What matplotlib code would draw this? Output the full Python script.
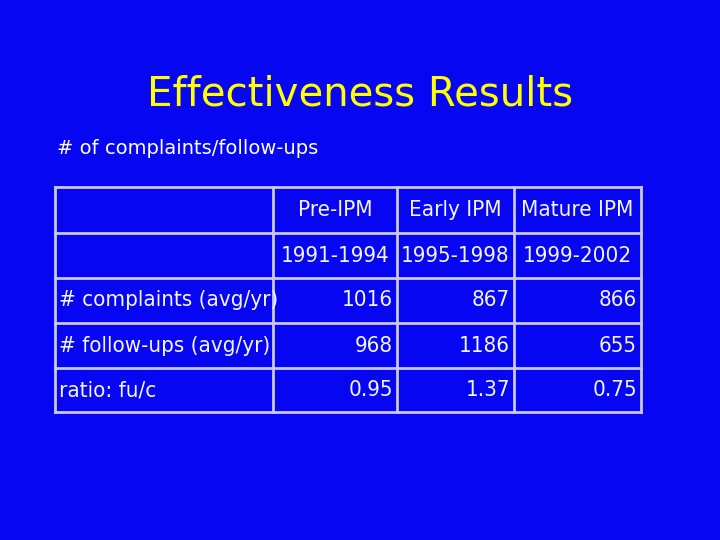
import matplotlib
matplotlib.use("Agg")
import matplotlib.pyplot as plt

headers = ["Pre-IPM", "Early IPM", "Mature IPM"]
periods = ["1991-1994", "1995-1998", "1999-2002"]
row_labels = ["# complaints (avg/yr)", "# follow-ups (avg/yr)", "ratio: fu/c"]
complaints = ["1016", "867", "866"]
followups = ["968", "1186", "655"]
ratios = ["0.95", "1.37", "0.75"]

bg = "#0606f2"
fig = plt.figure(figsize=(7.2, 5.4), dpi=100, facecolor=bg)
ax = fig.add_axes([0, 0, 1, 1])
ax.set_xlim(0, 720); ax.set_ylim(540, 0); ax.axis("off")
ax.set_facecolor(bg)

ax.text(360, 95, "Effectiveness Results", color="#ffff00", fontsize=29,
        ha="center", va="center", family="DejaVu Sans")
ax.text(57, 148, "# of complaints/follow-ups", color="white", fontsize=14,
        ha="left", va="center", family="DejaVu Sans")

xs = [55, 273, 397, 514, 641]
ys = [187, 233, 278, 323, 368, 412]
lc = "#c8c8ff"
for x in xs:
    ax.plot([x, x], [ys[0], ys[-1]], color=lc, lw=2)
for y in ys:
    ax.plot([xs[0], xs[-1]], [y, y], color=lc, lw=2)

tc = "#f4f4ff"
fs = 16
kw = dict(color=tc, fontsize=fs, va="center", family="DejaVu Sans", fontstretch="condensed")
rows = [complaints, followups, ratios]
for j in range(3):
    cx = (xs[j+1] + xs[j+2]) / 2
    ax.text(cx, (ys[0]+ys[1])/2, headers[j], ha="center", **kw)
    ax.text(cx, (ys[1]+ys[2])/2, periods[j], ha="center", **kw)
for i, (lab, vals) in enumerate(zip(row_labels, rows)):
    cy = (ys[i+2] + ys[i+3]) / 2
    ax.text(xs[0] + 4, cy, lab, ha="left", **kw)
    for j, v in enumerate(vals):
        ax.text(xs[j+2] - 4, cy, v, ha="right", **kw)

fig.savefig("out.png", facecolor=bg)
